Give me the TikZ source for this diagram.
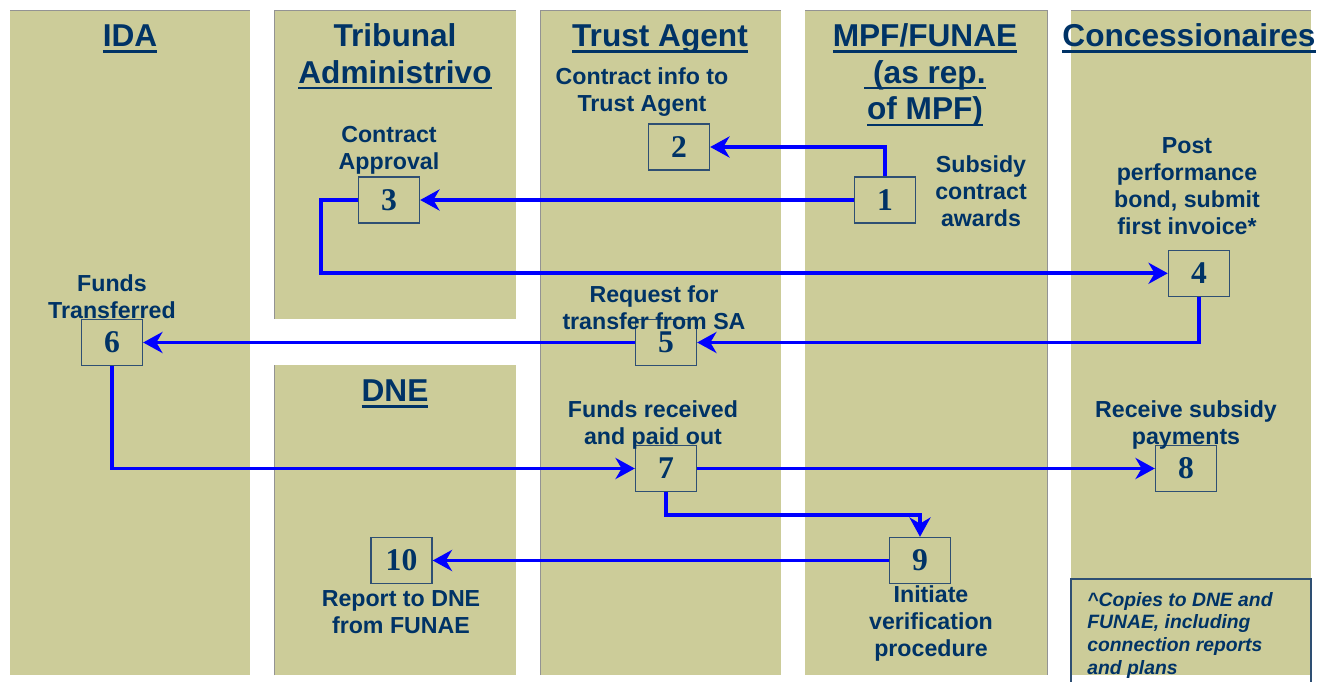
\documentclass[tikz,border=0pt]{standalone}
\usepackage{fontspec}
\setmainfont{Liberation Sans}
\newfontfamily\numserif{Liberation Serif}
\usetikzlibrary{arrows.meta}
\definecolor{tanbg}{HTML}{CCCC99}
\definecolor{navy}{HTML}{003366}
\definecolor{boxline}{HTML}{2E4F73}
\definecolor{flow}{HTML}{0000FF}
\newcommand{\hdul}[1]{\setbox0=\hbox{#1}\rlap{\rule[-3.4pt]{\wd0}{1.4pt}}\box0}
\tikzset{
  col/.style={fill=tanbg, draw=none},
  coledge/.style={draw=gray!85, line width=0.4pt},
  heading/.style={anchor=base, text=navy, font=\fontsize{18}{20.8}\selectfont\bfseries, align=center, inner sep=0pt},
  lbl/.style={anchor=base, text=navy, font=\fontsize{13.2}{15.5}\selectfont\bfseries, align=center, inner sep=0pt},
  numbox/.style={draw=boxline, line width=0.8pt, minimum width=1.22cm, minimum height=0.92cm, inner sep=0pt, text=navy, font=\fontsize{18}{20}\numserif\bfseries},
  flowarr/.style={draw=flow, line width=2.2pt, -{Stealth[length=11pt,width=12pt,inset=3.5pt]}},
  notetext/.style={anchor=base west, text=navy, font=\fontsize{11}{12.9}\selectfont\bfseries\itshape, align=left, inner sep=0pt},
  notebox/.style={draw=boxline, line width=0.8pt}
}
\begin{document}
\begin{tikzpicture}[x=0.02cm, y=-0.02cm]
\useasboundingbox (0,0) rectangle (1330,682);
\clip (0,0) rectangle (1330,682);
% columns
\fill[col] (10,10) rectangle (250,675);
\fill[col] (274,10) rectangle (516,319);
\fill[col] (274,365) rectangle (516,675);
\fill[col] (540,10) rectangle (781,675);
\fill[col] (805,10) rectangle (1047,675);
\fill[col] (1071,10) rectangle (1311,675);
\draw[coledge] (10,10) -- (250,10);
\draw[coledge] (274,319) -- (274,10) -- (516,10);
\draw[coledge] (274,675) -- (274,365);
\draw[coledge] (540,675) -- (540,10) -- (781,10);
\draw[coledge] (805,10) -- (1047,10) -- (1047,675);
\draw[coledge] (1071,10) -- (1311,10);
% headings (anchor = baseline of last line)
\node[heading] (hIDA) at (130,46.7) {\hdul{IDA}};
\node[heading] (hTA) at (395,83.3) {Tribunal\\\hdul{Administrivo}};
\node[heading] (hTR) at (660,46.7) {\hdul{Trust Agent}};
\node[heading] (hMPF) at (925,120) {\hdul{MPF/FUNAE}\\\hdul{\ (as rep.}\\\hdul{of MPF)}};
\node[heading] (hCON) at (1189,46.7) {\hdul{Concessionaires}};
\node[heading] (hDNE) at (395,401.7) {\hdul{DNE}};
% boxes
\node[numbox] (b1) at (885,200) {1};
\node[numbox] (b2) at (679,147) {2};
\node[numbox] (b3) at (389,200) {3};
\node[numbox] (b4) at (1199,273.3) {4};
\node[numbox] (b5) at (666,342.5) {5};
\node[numbox] (b6) at (112,342.5) {6};
\node[numbox] (b7) at (666,468.5) {7};
\node[numbox] (b8) at (1186,468.5) {8};
\node[numbox] (b9) at (920,560.5) {9};
\node[numbox] (b10) at (401.5,560.5) {10};
% connectors
\draw[flowarr] (b1.north) |- (b2.east);
\draw[flowarr] (b1.west) -- (b3.east);
\draw[flowarr] (b3.west) -- ++(-37,0) |- (b4.west);
\draw[flowarr] (b4.south) |- (b5.east);
\draw[flowarr] (b5.west) -- (b6.east);
\draw[flowarr] (b6.south) |- (b7.west);
\draw[flowarr] (b7.east) -- (b8.west);
\draw[flowarr] (b7.south) -- ++(0,23) -| (b9.north);
\draw[flowarr] (b9.west) -- (b10.east);
% labels (anchor = baseline of last line)
\node[lbl] (l2) at (642,111.7) {Contract info to\\Trust Agent};
\node[lbl] (l3) at (389,170) {Contract\\Approval};
\node[lbl] (l1) at (981,226.7) {Subsidy\\contract\\awards};
\node[lbl] (l4) at (1187,235) {Post\\performance\\bond, submit\\first invoice*};
\node[lbl] (l6) at (112,318.3) {Funds\\Transferred};
\node[lbl] (l5) at (654,330) {Request for\\transfer from SA};
\node[lbl] (l7) at (653,445) {Funds received\\and paid out};
\node[lbl] (l8) at (1186,445) {Receive subsidy\\payments};
\node[lbl] (l10) at (401,633.3) {Report to DNE\\from FUNAE};
\node[lbl] (l9) at (931,656.7) {Initiate\\verification\\procedure};
% footnote
\draw[notebox] (1071,579) rectangle (1311,700);
\node[notetext] (note) at (1087,674.3) {\textasciicircum Copies to DNE and\\FUNAE, including\\connection reports\\and plans};
\end{tikzpicture}
\end{document}
